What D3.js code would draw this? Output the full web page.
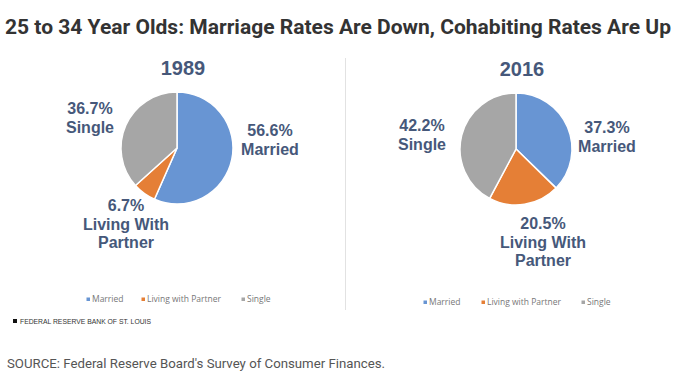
<!DOCTYPE html>
<html>
<head>
<meta charset="utf-8">
<script src="https://cdn.jsdelivr.net/npm/d3@7/dist/d3.min.js"></script>
<style>
  body { margin: 0; background: #fff; }
  svg { display: block; }
</style>
</head>
<body>
<svg id="chart" width="680" height="389"></svg>
<script>
const categories = ["Married", "Living with Partner", "Single"];
const labelNames = ["Married", "Living With Partner", "Single"];
const years = ["1989", "2016"];
const values1989 = [56.6, 6.7, 36.7];
const values2016 = [37.3, 20.5, 42.2];
const colors = ["#6895d3", "#e57f36", "#a6a6a6"];

const svg = d3.select("#chart");
const labelColor = "#46587a";

svg.append("text")
  .attr("x", 338).attr("y", 34)
  .attr("text-anchor", "middle")
  .attr("font-family", "Roboto, sans-serif")
  .attr("font-weight", "bold")
  .attr("font-size", 21)
  .attr("fill", "#333")
  .attr("textLength", 666)
  .attr("lengthAdjust", "spacingAndGlyphs")
  .text("25 to 34 Year Olds: Marriage Rates Are Down, Cohabiting Rates Are Up");

// divider between the two pies
svg.append("line")
  .attr("x1", 345.5).attr("x2", 345.5)
  .attr("y1", 58).attr("y2", 310)
  .attr("stroke", "#e2e2e2").attr("stroke-width", 1);

// per-pie layout: centre, legend row, label anchors
const panels = [
  {
    year: years[0], values: values1989, cx: 177, cy: 148, r: 56, titleY: 75,
    legendY: 299, legendX: [88, 143, 243],
    labels: [
      { x: 270, y: 136 },
      { x: 126, y: 211 },
      { x: 90, y: 114 }
    ]
  },
  {
    year: years[1], values: values2016, cx: 516, cy: 149, r: 56, titleY: 76,
    legendY: 302, legendX: [425, 483, 583],
    labels: [
      { x: 607, y: 133 },
      { x: 543, y: 229 },
      { x: 422, y: 131 }
    ]
  }
];

const pie = d3.pie().sort(null).value(d => d);
const arc = d3.arc().innerRadius(0);

panels.forEach(p => {
  const g = svg.append("g");

  g.append("text")
    .attr("x", p.cx + 6).attr("y", p.titleY)
    .attr("text-anchor", "middle")
    .attr("font-family", "Liberation Sans, Arial, sans-serif")
    .attr("font-weight", "bold")
    .attr("font-size", 20)
    .attr("fill", labelColor)
    .text(p.year);

  g.append("g")
    .attr("transform", `translate(${p.cx},${p.cy})`)
    .selectAll("path")
    .data(pie(p.values))
    .join("path")
    .attr("d", d => arc.outerRadius(p.r)(d))
    .attr("fill", (d, i) => colors[i])
    .attr("stroke", "#fff")
    .attr("stroke-width", 1.5);

  p.labels.forEach((l, i) => {
    const lines = [p.values[i].toFixed(1) + "%"];
    if (i === 1) { lines.push("Living With", "Partner"); }
    else { lines.push(labelNames[i]); }
    const t = g.append("text")
      .attr("text-anchor", "middle")
      .attr("font-family", "Liberation Sans, Arial, sans-serif")
      .attr("font-weight", "bold")
      .attr("font-size", 16)
      .attr("fill", labelColor);
    lines.forEach((s, k) => {
      t.append("tspan").attr("x", l.x).attr("y", l.y + k * 18.5).text(s);
    });
  });

  // legend
  categories.forEach((c, i) => {
    g.append("rect")
      .attr("x", p.legendX[i] - 1.5).attr("y", p.legendY - 1.5)
      .attr("width", 3.5).attr("height", 3.5)
      .attr("fill", colors[i]);
    g.append("text")
      .attr("x", p.legendX[i] + 4).attr("y", p.legendY + 3)
      .attr("font-family", "Open Sans, sans-serif")
      .attr("font-size", 8.5)
      .attr("fill", "#777")
      .text(c);
  });
});

// FRB credit
svg.append("rect")
  .attr("x", 13).attr("y", 319).attr("width", 4).attr("height", 4)
  .attr("fill", "#111");
svg.append("text")
  .attr("x", 20).attr("y", 324)
  .attr("font-family", "Liberation Sans, Arial, sans-serif")
  .attr("font-size", 7)
  .attr("fill", "#333")
  .attr("textLength", 131)
  .attr("lengthAdjust", "spacingAndGlyphs")
  .text("FEDERAL RESERVE BANK OF ST. LOUIS");

svg.append("text")
  .attr("x", 7).attr("y", 368)
  .attr("font-family", "Roboto, sans-serif")
  .attr("font-size", 13)
  .attr("fill", "#555")
  .attr("textLength", 378)
  .attr("lengthAdjust", "spacingAndGlyphs")
  .text("SOURCE: Federal Reserve Board's Survey of Consumer Finances.");
</script>
</body>
</html>
